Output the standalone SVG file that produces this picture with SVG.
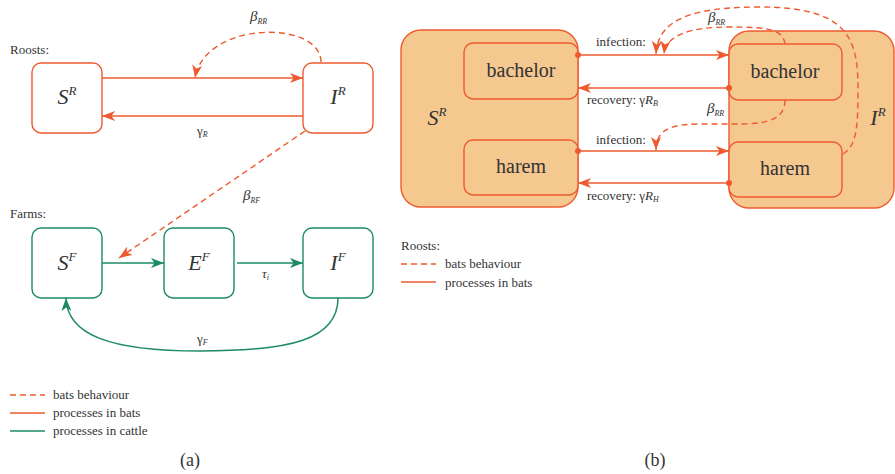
<svg xmlns="http://www.w3.org/2000/svg" width="895" height="474" viewBox="0 0 895 474">
  <style>
    text { font-family: "Liberation Serif", "Times New Roman", serif; fill: #333; }
    .lbl { font-size: 13px; }
    .var { font-style: italic; font-size: 22px; }
    .sup { font-size: 13px; }
    .sub { font-size: 8px; font-style: italic; }
    .greek { font-style: italic; font-size: 15px; }
    .box-o { fill: #fff; stroke: #EE5A2F; stroke-width: 1.4; }
    .box-g { fill: #fff; stroke: #1C8A69; stroke-width: 1.4; }
    .big { fill: #F4C88F; stroke: #EE5A2F; stroke-width: 1.4; }
    .inner { fill: #F4C88F; stroke: #EE5A2F; stroke-width: 1.4; }
    .ln-o { fill: none; stroke: #EE5A2F; stroke-width: 1.5; }
    .ln-g { fill: none; stroke: #1C8A69; stroke-width: 1.5; }
    .dash { fill: none; stroke: #EE5A2F; stroke-width: 1.4; stroke-dasharray: 6 4; }
    .word { font-size: 20px; }
  </style>
  <defs>
    <marker id="ah-o" markerUnits="userSpaceOnUse" markerWidth="14" markerHeight="10" refX="13" refY="5" orient="auto">
      <path d="M0,0 L13,5 L0,10 L3.5,5 z" fill="#EE5A2F"/>
    </marker>
    <marker id="ah-g" markerUnits="userSpaceOnUse" markerWidth="14" markerHeight="10" refX="13" refY="5" orient="auto">
      <path d="M0,0 L13,5 L0,10 L3.5,5 z" fill="#1C8A69"/>
    </marker>
  </defs>

  <!-- ===== Panel (a) ===== -->
  <text class="lbl" x="10" y="54">Roosts:</text>
  <text class="lbl" x="10" y="218">Farms:</text>

  <g id="a-SR">
    <rect class="box-o" x="32" y="63" width="70" height="70" rx="9"/>
    <text class="var" x="67" y="104" text-anchor="middle">S<tspan class="sup" dy="-9">R</tspan></text>
  </g>
  <g id="a-IR">
    <rect class="box-o" x="303" y="63" width="70" height="70" rx="9"/>
    <text class="var" x="338" y="104" text-anchor="middle">I<tspan class="sup" dy="-9">R</tspan></text>
  </g>
  <g id="a-SF">
    <rect class="box-g" x="32" y="228" width="70" height="70" rx="9"/>
    <text class="var" x="67" y="270" text-anchor="middle">S<tspan class="sup" dy="-9">F</tspan></text>
  </g>
  <g id="a-EF">
    <rect class="box-g" x="164" y="228" width="70" height="70" rx="9"/>
    <text class="var" x="199" y="270" text-anchor="middle">E<tspan class="sup" dy="-9">F</tspan></text>
  </g>
  <g id="a-IF">
    <rect class="box-g" x="303" y="228" width="70" height="70" rx="9"/>
    <text class="var" x="338" y="270" text-anchor="middle">I<tspan class="sup" dy="-9">F</tspan></text>
  </g>

  <g id="a-connectors">
    <path class="ln-o" d="M102,78 L303,78" marker-end="url(#ah-o)"/>
    <path class="ln-o" d="M303,116 L102,116" marker-end="url(#ah-o)"/>
    <path class="dash" d="M321,62 C321,20 205,20 195,78" marker-end="url(#ah-o)"/>
    <path class="dash" d="M305,131 L119,258" marker-end="url(#ah-o)"/>
    <path class="ln-g" d="M102,263 L164,263" marker-end="url(#ah-g)"/>
    <path class="ln-g" d="M237,263 L303,263" marker-end="url(#ah-g)"/>
    <path class="ln-g" d="M338,298 C338,340 290,351 200,351 C110,351 67,335 66,298" marker-end="url(#ah-g)"/>
  </g>

  <text class="greek" x="250" y="21">β<tspan class="sub" dy="3">RR</tspan></text>
  <text class="lbl" x="197" y="135">γ<tspan class="sub" dy="2">R</tspan></text>
  <text class="greek" x="243" y="200">β<tspan class="sub" dy="3">RF</tspan></text>
  <text class="lbl" x="262" y="278" font-style="italic">τ<tspan class="sub" dy="2">i</tspan></text>
  <text class="lbl" x="197" y="343">γ<tspan class="sub" dy="2">F</tspan></text>

  <g id="a-legend">
    <line class="dash" x1="10" y1="395" x2="45" y2="395" stroke-dasharray="7 5"/>
    <text class="lbl" x="53" y="399">bats behaviour</text>
    <line class="ln-o" x1="10" y1="413" x2="45" y2="413" stroke="#F07A5A"/>
    <text class="lbl" x="53" y="417">processes in bats</text>
    <line class="ln-g" x1="10" y1="431" x2="45" y2="431"/>
    <text class="lbl" x="53" y="435">processes in cattle</text>
  </g>
  <text x="190" y="466" font-size="18" text-anchor="middle">(a)</text>

  <!-- ===== Panel (b) ===== -->
  <g id="b-SR">
    <rect class="big" x="401" y="30" width="177" height="177" rx="20"/>
    <text class="var" x="437" y="125" text-anchor="middle" font-size="21">S<tspan class="sup" dy="-9">R</tspan></text>
  </g>
  <g id="b-SR-bachelor">
    <rect class="inner" x="464" y="43" width="114" height="56" rx="9"/>
    <text class="word" x="521" y="77" text-anchor="middle">bachelor</text>
  </g>
  <g id="b-SR-harem">
    <rect class="inner" x="464" y="140" width="114" height="55" rx="9"/>
    <text class="word" x="521" y="173" text-anchor="middle">harem</text>
  </g>
  <g id="b-IR">
    <rect class="big" x="729" y="31" width="165" height="177" rx="20"/>
    <text class="var" x="878" y="125" text-anchor="middle" font-size="21">I<tspan class="sup" dy="-9">R</tspan></text>
  </g>
  <g id="b-IR-bachelor">
    <rect class="inner" x="729" y="44" width="113" height="56" rx="9"/>
    <text class="word" x="785" y="78" text-anchor="middle">bachelor</text>
  </g>
  <g id="b-IR-harem">
    <rect class="inner" x="729" y="142" width="113" height="55" rx="9"/>
    <text class="word" x="785" y="175" text-anchor="middle">harem</text>
  </g>

  <g id="b-connectors">
    <path class="ln-o" d="M578,55 L729,55" marker-end="url(#ah-o)"/>
    <circle cx="578" cy="55" r="3" fill="#EE5A2F"/>
    <path class="ln-o" d="M729,88 L578,88" marker-end="url(#ah-o)"/>
    <circle cx="729" cy="88" r="3" fill="#EE5A2F"/>
    <path class="ln-o" d="M578,151 L729,151" marker-end="url(#ah-o)"/>
    <circle cx="578" cy="151" r="3" fill="#EE5A2F"/>
    <path class="ln-o" d="M729,183 L578,183" marker-end="url(#ah-o)"/>
    <circle cx="729" cy="183" r="3" fill="#EE5A2F"/>
    <path class="dash" d="M843,154 C856,146 858,130 858,90 C858,40 850,7 760,7 C690,7 658,20 656,54" marker-end="url(#ah-o)"/>
    <path class="dash" d="M785,44 C783,30 770,27 730,27 C690,27 666,35 664,54" marker-end="url(#ah-o)"/>
    <path class="dash" d="M785,100 C785,118 770,124 740,124 L700,124 C670,124 656,130 656,150" marker-end="url(#ah-o)"/>
  </g>

  <text class="lbl" x="596" y="46">infection:</text>
  <text class="lbl" x="587" y="104">recovery: γ<tspan font-style="italic">R</tspan><tspan class="sub" dy="2">B</tspan></text>
  <text class="lbl" x="596" y="144">infection:</text>
  <text class="lbl" x="587" y="200">recovery: γ<tspan font-style="italic">R</tspan><tspan class="sub" dy="2">H</tspan></text>
  <text class="greek" x="708" y="22">β<tspan class="sub" dy="3">RR</tspan></text>
  <text class="greek" x="707" y="113">β<tspan class="sub" dy="3">RR</tspan></text>

  <g id="b-legend">
    <text class="lbl" x="401" y="250">Roosts:</text>
    <line class="dash" x1="401" y1="264" x2="436" y2="264" stroke-dasharray="7 5"/>
    <text class="lbl" x="445" y="268">bats behaviour</text>
    <line class="ln-o" x1="401" y1="282" x2="436" y2="282" stroke="#F07A5A"/>
    <text class="lbl" x="445" y="287">processes in bats</text>
  </g>
  <text x="655" y="466" font-size="18" text-anchor="middle">(b)</text>
</svg>
